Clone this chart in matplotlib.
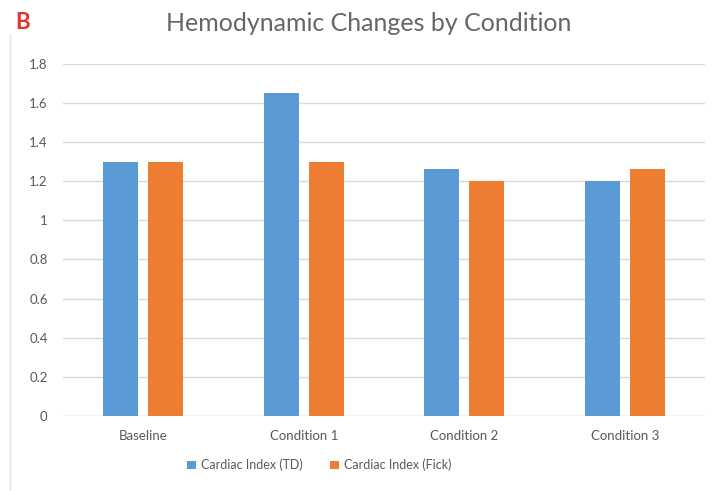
import matplotlib.pyplot as plt
import numpy as np

categories = ['Baseline', 'Condition 1', 'Condition 2', 'Condition 3']
ci_td = [1.30, 1.65, 1.26, 1.20]
ci_fick = [1.30, 1.30, 1.20, 1.26]
yticks = [0, 0.2, 0.4, 0.6, 0.8, 1, 1.2, 1.4, 1.6, 1.8]
ytick_labels = ['0', '0.2', '0.4', '0.6', '0.8', '1', '1.2', '1.4', '1.6', '1.8']

plt.rcParams['font.family'] = ['Lato', 'DejaVu Sans']
grey = '#595959'

fig = plt.figure(figsize=(7.15, 4.91), dpi=100)
ax = fig.add_axes([0.088, 0.153, 0.898, 0.717])

x = np.arange(len(categories))
w = 0.22
ax.bar(x - 0.14, ci_td, w, color='#5B9BD5', label='Cardiac Index (TD)', zorder=3)
ax.bar(x + 0.14, ci_fick, w, color='#ED7D31', label='Cardiac Index (Fick)', zorder=3)

ax.set_xlim(-0.5, 3.5)
ax.set_ylim(0, 1.8)
ax.set_yticks(yticks)
ax.set_yticklabels(ytick_labels)
ax.set_xticks(x)
ax.set_xticklabels(categories)
ax.tick_params(length=0, labelsize=9.5, colors=grey, pad=10)
ax.tick_params(axis='y', pad=11)
ax.grid(axis='y', color='#D9D9D9', linewidth=1, zorder=0)
for s in ax.spines.values():
    s.set_visible(False)
ax.axhline(0, color='#D9D9D9', linewidth=1, zorder=1)

fig.text(0.516, 0.953, 'Hemodynamic Changes by Condition', ha='center', va='center',
         fontsize=18, color='#666666')
fig.text(0.021, 0.955, 'B', ha='left', va='center', fontsize=16, fontweight='bold',
         color='#E8312F')

leg = fig.legend(loc='center', bbox_to_anchor=(0.447, 0.053), ncol=2, frameon=False,
                 fontsize=9, handlelength=0.7, handleheight=0.7, handletextpad=0.4,
                 columnspacing=2.2)
for t in leg.get_texts():
    t.set_color(grey)

fig.add_artist(plt.Line2D([0.014, 0.014], [0, 0.93], transform=fig.transFigure,
                          color='#E3E3E3', linewidth=1))

fig.savefig('out.png', dpi=100)
